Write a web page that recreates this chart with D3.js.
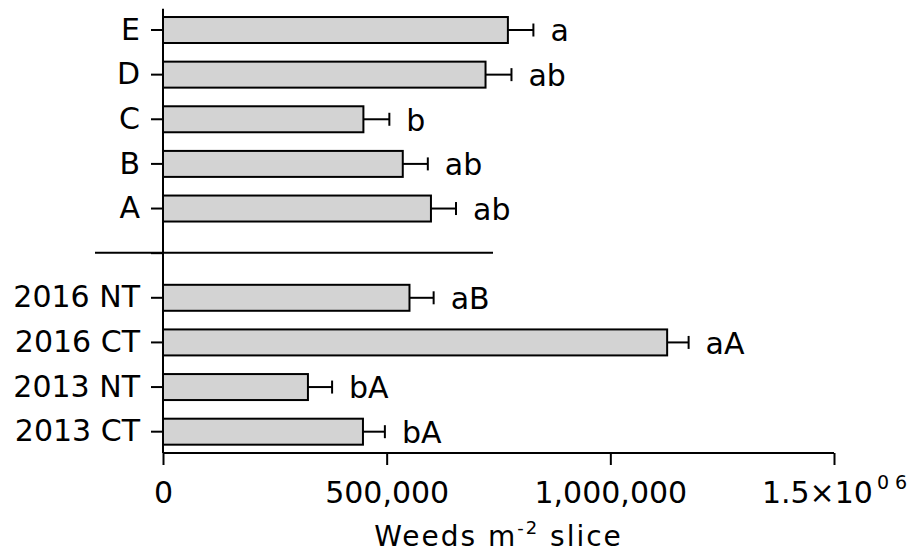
<!DOCTYPE html>
<html>
<head>
<meta charset="utf-8">
<script src="https://cdn.jsdelivr.net/npm/d3@7"></script>
<style>
  html, body { margin: 0; padding: 0; background: #fff; }
  svg { display: block; }
  svg text { font-family: "DejaVu Sans", Verdana, sans-serif; }
</style>
</head>
<body>
<svg id="chart" width="915" height="552"></svg>
<script>
// ---- data ----
const categories = ["E", "D", "C", "B", "A", "sep", "2016 NT", "2016 CT", "2013 NT", "2013 CT"];
const barCategories = ["E", "D", "C", "B", "A", "2016 NT", "2016 CT", "2013 NT", "2013 CT"];
const means = [771000, 721000, 448000, 536000, 599000, 551000, 1127000, 324000, 447000];
const errors = [57000, 58000, 58000, 56000, 56000, 54000, 48000, 54000, 49000];
const letters = ["a", "ab", "b", "ab", "ab", "aB", "aA", "bA", "bA"];
const xTickValues = [0, 500000, 1000000, 1500000];
const xTickLabels = ["0", "500,000", "1,000,000", "1.5×10"];
const xLastTickSup = "0 6";
const xTitle = "Weeds m";
const xTitleSup = "-2";
const xTitleTail = " slice";

// ---- layout ----
const svg = d3.select("#chart");
const x0 = 163, x1 = 834;
const yTop = 8.7, yBot = 453;
const fontSize = 30;

const x = d3.scaleLinear().domain([0, 1500000]).range([x0, x1]);
const y = d3.scaleBand().domain(categories).range([yTop, yBot])
  .paddingInner(0.373).paddingOuter(0.164);

const bars = barCategories.map((c, i) => ({ c, m: means[i], e: errors[i], l: letters[i] }));

// bars
svg.append("g").selectAll("rect").data(bars).join("rect")
  .attr("x", x(0))
  .attr("y", d => y(d.c) + 1)
  .attr("width", d => x(d.m) - x(0))
  .attr("height", y.bandwidth() - 2)
  .attr("fill", "#d3d3d3")
  .attr("stroke", "#000")
  .attr("stroke-width", 2);

// error bars
const eb = svg.append("g").attr("stroke", "#000").attr("stroke-width", 2);
eb.selectAll("line.h").data(bars).join("line").attr("class", "h")
  .attr("x1", d => x(d.m)).attr("x2", d => x(d.m + d.e))
  .attr("y1", d => y(d.c) + y.bandwidth() / 2).attr("y2", d => y(d.c) + y.bandwidth() / 2);
eb.selectAll("line.c").data(bars).join("line").attr("class", "c")
  .attr("x1", d => x(d.m + d.e)).attr("x2", d => x(d.m + d.e))
  .attr("y1", d => y(d.c) + y.bandwidth() / 2 - 6.5).attr("y2", d => y(d.c) + y.bandwidth() / 2 + 6.5);

// letters
svg.append("g").selectAll("text").data(bars).join("text")
  .attr("x", d => x(d.m + d.e) + 17)
  .attr("y", d => y(d.c) + y.bandwidth() / 2)
  .attr("dy", "0.38em")
  .attr("font-size", fontSize)
  .attr("fill", "#000")
  .text(d => d.l);

// separator line
svg.append("line")
  .attr("x1", 95).attr("x2", 493)
  .attr("y1", y("sep") + y.bandwidth() / 2 - 0.5).attr("y2", y("sep") + y.bandwidth() / 2 - 0.5)
  .attr("stroke", "#000").attr("stroke-width", 2);

// y axis
const yAxis = d3.axisLeft(y).tickSize(12).tickPadding(11)
  .tickFormat(d => d === "sep" ? "" : d);
const gy = svg.append("g").attr("transform", `translate(${x0},0)`).call(yAxis)
  .attr("font-family", null).attr("font-size", fontSize);
gy.select(".domain").attr("d", `M0,${yTop}V${yBot}`).attr("stroke-width", 2);
gy.selectAll(".tick line").attr("stroke-width", 2);
gy.selectAll(".tick text").attr("fill", "#000");

// x axis
const xAxis = d3.axisBottom(x).tickValues(xTickValues).tickSize(12).tickPadding(17)
  .tickFormat((d, i) => xTickLabels[i]);
const gx = svg.append("g").attr("transform", `translate(0,${yBot})`).call(xAxis)
  .attr("font-family", null).attr("font-size", fontSize);
gx.select(".domain").attr("d", `M${x0},0H${x1}`).attr("stroke-width", 2);
gx.selectAll(".tick line").attr("stroke-width", 2);
gx.selectAll(".tick text").attr("fill", "#000");
const lastTick = gx.selectAll(".tick text").filter((d, i) => i === xTickValues.length - 1);
lastTick.append("tspan").attr("font-size", 19).attr("dy", "-0.75em").attr("dx", 4).text(xLastTickSup);

// x title
const t = svg.append("text")
  .attr("x", (x0 + x1) / 2).attr("y", 546)
  .attr("text-anchor", "middle").attr("font-size", 28).attr("fill", "#000")
  .attr("letter-spacing", 2);
t.append("tspan").text(xTitle);
t.append("tspan").attr("font-size", 18).attr("dy", -12).text(xTitleSup);
t.append("tspan").attr("dy", 12).text(xTitleTail);
</script>
</body>
</html>
